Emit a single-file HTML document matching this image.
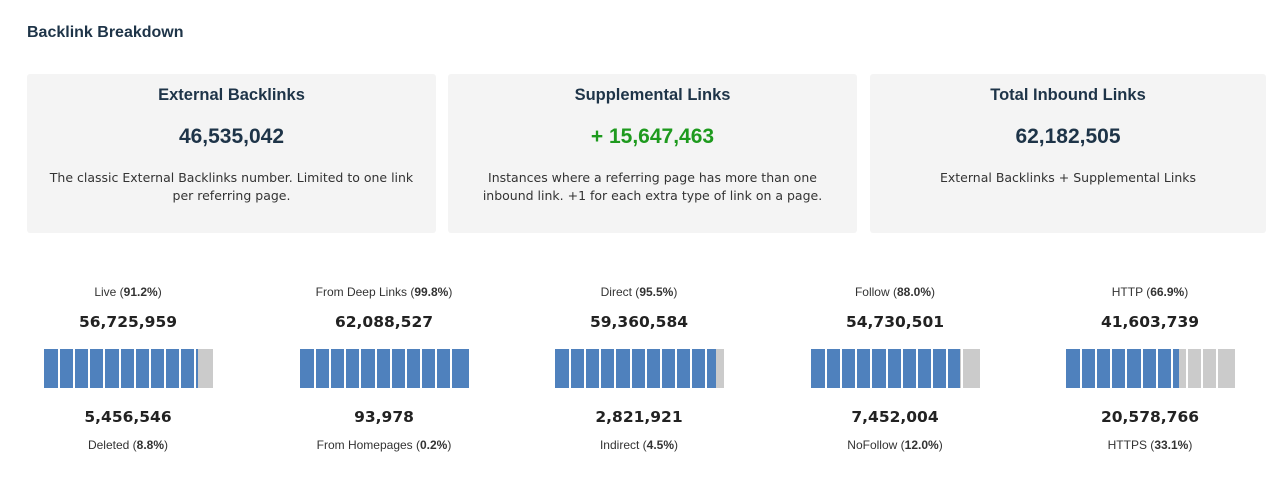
<!DOCTYPE html><html><head><style>
body{margin:0;width:1288px;height:503px;background:#fff;position:relative;font-family:"Liberation Sans",Arial,sans-serif;color:#1e3448;overflow:hidden}
.h{position:absolute;left:27px;top:24px;font-size:16px;font-weight:bold}
.card{position:absolute;top:74px;height:159px;background:#f4f4f4;border-radius:3px;text-align:center}
.card .t{position:absolute;left:0;right:0;top:12px;font-size:16.5px;font-weight:bold}
.card .n{position:absolute;left:0;right:0;top:51px;font-size:21px;font-weight:bold}
.card .d{position:absolute;left:15px;right:15px;top:95px;font-family:"DejaVu Sans",Verdana,sans-serif;font-size:12.5px;line-height:18px;color:#333}
.col{position:absolute;top:0;width:256px;text-align:center;color:#333}
.l{position:absolute;left:0;right:0;font-size:12px}
.v{position:absolute;left:0;right:0;font-family:"DejaVu Sans",Verdana,sans-serif;font-weight:bold;font-size:15.5px;color:#222}
.bar{position:absolute;left:44px;top:349px;width:169px;height:39px}
.bar i{position:absolute;top:0;bottom:0;width:2px;background:#fff}
</style></head><body>
<div class="h">Backlink Breakdown</div>
<div class="card" style="left:27px;width:409px"><div class="t">External Backlinks</div><div class="n">46,535,042</div><div class="d">The classic External Backlinks number. Limited to one link per referring page.</div></div>
<div class="card" style="left:448px;width:409px"><div class="t">Supplemental Links</div><div class="n" style="color:#1e9a1e">+ 15,647,463</div><div class="d">Instances where a referring page has more than one inbound link. +1 for each extra type of link on a page.</div></div>
<div class="card" style="left:870px;width:396px"><div class="t">Total Inbound Links</div><div class="n">62,182,505</div><div class="d">External Backlinks + Supplemental Links</div></div>
<div id="cols"></div>
<script>
var d=[["Live","91.2","56,725,959","5,456,546","Deleted","8.8"],["From Deep Links","99.8","62,088,527","93,978","From Homepages","0.2"],["Direct","95.5","59,360,584","2,821,921","Indirect","4.5"],["Follow","88.0","54,730,501","7,452,004","NoFollow","12.0"],["HTTP","66.9","41,603,739","20,578,766","HTTPS","33.1"]];
var h="";d.forEach(function(r,i){var x=Math.round(i*255.6);var p=parseFloat(r[1]);var w=Math.round(169*p/100);
var lines="";for(var k=1;k<11;k++){lines+='<i style="left:'+(Math.round(k*15.1)-1)+'px"></i>';}
h+='<div class="col" style="left:'+x+'px"><div class="l" style="top:285px">'+r[0]+' (<b>'+r[1]+'%</b>)</div><div class="v" style="top:313px">'+r[2]+'</div><div class="bar" style="background:linear-gradient(90deg,#4f81bd '+w+'px,#cbcbcb '+w+'px)">'+lines+'</div><div class="v" style="top:408px">'+r[3]+'</div><div class="l" style="top:438px">'+r[4]+' (<b>'+r[5]+'%</b>)</div></div>';});
document.getElementById("cols").innerHTML=h;
</script>
</body></html>
